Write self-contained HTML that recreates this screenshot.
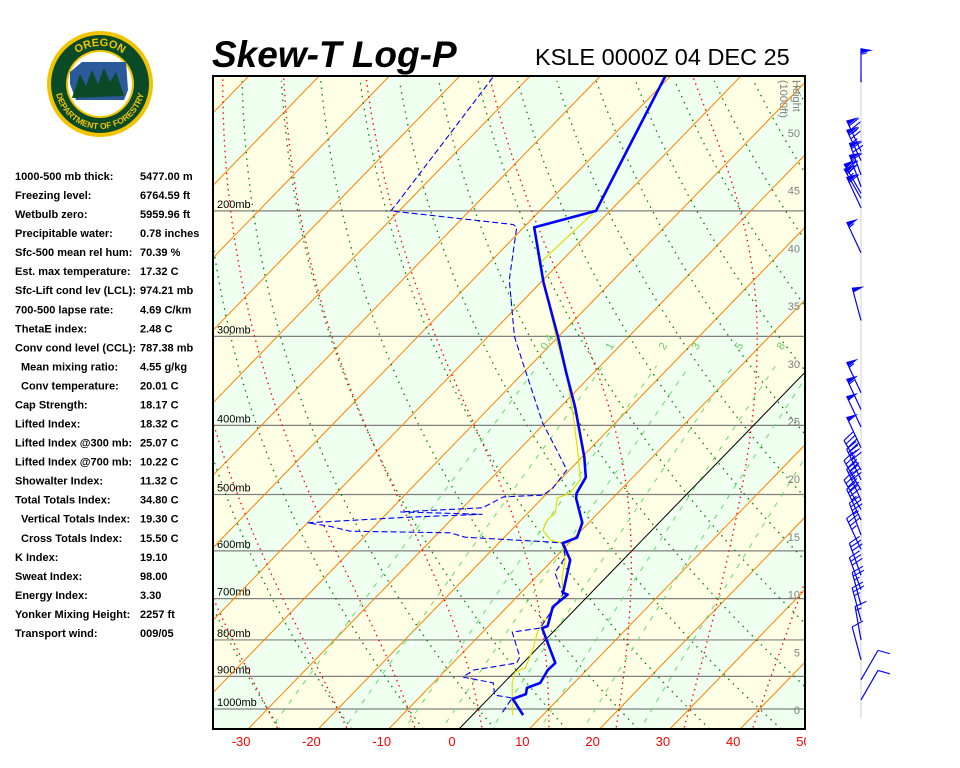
<!DOCTYPE html>
<html><head><meta charset="utf-8"><style>
body{margin:0;background:#fff;}
svg{display:block;font-family:"Liberation Sans",sans-serif;}
.st{font-size:11px;font-weight:bold;fill:#000;}
</style></head><body>
<svg id="chart" width="960" height="768" viewBox="0 0 960 768" xmlns="http://www.w3.org/2000/svg">
<defs><clipPath id="pc"><rect x="213" y="76" width="592" height="653"/></clipPath>
<clipPath id="bc"><rect x="200" y="729" width="606" height="30"/></clipPath>
<path id="arcTop" d="M 62 84 A 38 38 0 0 1 138 84"/>
<path id="arcBot" d="M 55 84 A 45 45 0 0 0 145 84"/>
</defs>
<g>
<circle cx="100" cy="84" r="53" fill="#f2c400"/>
<circle cx="100" cy="84" r="49" fill="#0b4a26"/>
<circle cx="100" cy="84" r="34" fill="#f2c400"/>
<circle cx="100" cy="84" r="32" fill="#ffffff"/>
<path d="M70 72 L82 62 L126 62 L128 90 L124 100 L76 100 L70 84 Z" fill="#2a5a9a"/>
<path d="M72 98 L80 74 L86 86 L92 70 L98 84 L104 68 L110 82 L116 72 L124 96 Z" fill="#0b4a26"/>
<text font-size="11" font-weight="bold" fill="#f2c400"><textPath href="#arcTop" startOffset="50%" text-anchor="middle">OREGON</textPath></text>
<text font-size="8.5" font-weight="bold" fill="#f2c400"><textPath href="#arcBot" startOffset="50%" text-anchor="middle">DEPARTMENT OF FORESTRY</textPath></text>
</g>
<text x="212" y="67" font-size="37" font-weight="bold" font-style="italic">Skew-T Log-P</text>
<text x="535" y="65" font-size="23.5">KSLE 0000Z 04 DEC 25</text>
<g id="stats"></g>
<g id="bg" clip-path="url(#pc)"></g>
<g id="lines" clip-path="url(#pc)"></g>
<g id="traces" clip-path="url(#pc)"></g>
<rect x="213" y="76" width="592" height="653" fill="none" stroke="#000" stroke-width="2"/>
<g id="xaxis" clip-path="url(#bc)"></g>
<g id="winds"><line x1="861" y1="75" x2="861" y2="718" stroke="#e8e8e8" stroke-width="2"/></g>
</svg>
<script>
const statLabels=["1000-500 mb thick:","Freezing level:","Wetbulb zero:","Precipitable water:","Sfc-500 mean rel hum:","Est. max temperature:","Sfc-Lift cond lev (LCL):","700-500 lapse rate:","ThetaE index:","Conv cond level (CCL):","Mean mixing ratio:","Conv temperature:","Cap Strength:","Lifted Index:","Lifted Index @300 mb:","Lifted Index @700 mb:","Showalter Index:","Total Totals Index:","Vertical Totals Index:","Cross Totals Index:","K Index:","Sweat Index:","Energy Index:","Yonker Mixing Height:","Transport wind:"];
const statValues=["5477.00 m","6764.59 ft","5959.96 ft","0.78 inches","70.39 %","17.32 C","974.21 mb","4.69 C/km","2.48 C","787.38 mb","4.55 g/kg","20.01 C","18.17 C","18.32 C","25.07 C","10.22 C","11.32 C","34.80 C","19.30 C","15.50 C","19.10","98.00","3.30","2257 ft","009/05"];
const statIndent=[0,0,0,0,0,0,0,0,0,0,1,1,0,0,0,0,0,0,1,1,0,0,0,0,0];
// sounding data
const tempP=[129,200,211,252,300,338,377,443,473,498,506,548,575,585,618,687,691,719,765,770,862,882,919,934,953,968,1020];
const tempT=[-60.8,-52.0,-58.5,-49.6,-40.1,-33.8,-27.9,-19.7,-16.7,-15.8,-15.2,-10.9,-9.6,-10.9,-7.5,-4.0,-3.1,-3.5,-1.6,-2.1,4.6,4.5,5.2,4.0,4.7,3.5,7.2];
const dewP=[130,196,200,209,211,250,300,327,397,433,462,490,501,504,522,529,533,538,548,554,563,566,574,583,585,612,644,691,770,780,845,862,882,902,919,956,965,1013];
const dewT=[-85.1,-81.3,-81.2,-61.9,-61.0,-54.8,-46.3,-41.4,-30.3,-24.6,-20.4,-19.9,-20.3,-25.7,-27.2,-38.3,-26.3,-36.2,-50.0,-46.4,-42.8,-28.3,-25.6,-12.9,-10.9,-8.6,-7.9,-3.8,-2.4,-5.8,-1.3,-0.9,-6.1,-6.6,-1.5,0.4,3.3,3.9];
const wbP=[200,237,264,304,345,389,437,477,498,506,531,543,561,579,585,618,653,691,775,827,876,887,919,965,1020];
const wbT=[-52.1,-52.8,-47.1,-39.7,-32.8,-26.8,-21.2,-17.1,-16.8,-17.9,-16.1,-16.3,-15.5,-13.1,-11.0,-8.2,-6.3,-3.8,-2.4,-0.4,1.0,0.1,1.2,3.3,5.7];
// axes
const pLevels=[1000,900,800,700,600,500,400,300,200];
const tTicks=[-30,-20,-10,0,10,20,30,40,50];
const heightTicks=[0,5,10,15,20,25,30,35,40,45,50];
const mixRatios=[0.4,1,2,3,5,8,12,20];
// winds
const windP=[132,165,170,178,185,189,192,198,229,285,360,380,402,430,462,477,493,509,525,543,570,597,649,680,715,752,800,853,910,971];
const windDir=[360,335,335,340,340,330,330,335,335,345,335,335,335,335,330,335,330,335,330,335,340,335,340,340,345,345,350,345,30,30];
const windSpd=[55,75,75,70,65,70,65,60,55,50,55,55,50,50,45,40,45,40,40,35,35,35,30,30,25,25,15,10,10,10];

const NS="http://www.w3.org/2000/svg";
function mk(tag,attrs,parent){const e=document.createElementNS(NS,tag);for(const k in attrs)e.setAttribute(k,attrs[k]);parent.appendChild(e);return e;}
function yP(p){return 709-309.5*Math.log(1000/p);}
function xT(T,y){return 459+7.03*T+0.97*(729-y);}
function pY(y){return 1000*Math.exp(-(709-y)/309.5);}
const Y0=76,Y1=729;
function pathFrom(ps,ts){let d="";for(let i=0;i<ps.length;i++){const y=yP(ps[i]);d+=(i?"L":"M")+xT(ts[i],y).toFixed(1)+" "+y.toFixed(1);}return d;}

// stats
const sg=document.getElementById('stats');
statLabels.forEach((l,i)=>{
 const t=mk('text',{x:statIndent[i]?21:15,y:180+i*19.04,class:'st'},sg);t.textContent=l;
 
 
 const v=mk('text',{x:140,y:180+i*19.04,class:'st'},sg);v.textContent=statValues[i];
 
 
});

// background bands
const bg=document.getElementById('bg');
mk('rect',{x:213,y:76,width:592,height:653,fill:'#effff0'},bg);
for(let T=-140;T<=60;T+=10){
 const k=Math.floor(T/10);
 if(Math.abs(k)%2===1){
  const a=xT(T,Y1),b=xT(T,Y0),c=xT(T+10,Y0),d=xT(T+10,Y1);
  const poly=mk('polygon',{points:`${a},${Y1} ${b},${Y0} ${c},${Y0} ${d},${Y1}`,fill:'#ffffe6'},bg);
  
  
 }
}
const lg=document.getElementById('lines');
// pressure lines
pLevels.forEach(p=>{const y=yP(p);
 const l=mk('line',{x1:213,x2:805,y1:y,y2:y,stroke:'#808080','stroke-width':1.2},lg);
 
 
 const t=mk('text',{x:217,y:y-3,'font-size':11,fill:'#000'},lg);t.textContent=p+'mb';
 
 
});
// isotherms
for(let T=-130;T<=60;T+=10){
 const l=mk('line',{x1:xT(T,Y1),y1:Y1,x2:xT(T,Y0),y2:Y0,stroke:T===0?'#000':'#ff8000','stroke-width':1},lg);
 
 
}
// dry adiabats
for(let t0=-50;t0<=160;t0+=10){
 const th=t0+273.15;let d="";
 for(let y=Y1;y>=Y0;y-=6){const p=pY(y);const T=th*Math.pow(p/1000,0.286)-273.15;d+=(y===Y1?"M":"L")+xT(T,y).toFixed(1)+" "+y;}
 const pa=mk('path',{d:d,fill:'none',stroke:'#008000','stroke-width':1.3,'stroke-dasharray':'1.5 5'},lg);
 
 
}
// moist adiabats
function es(T){return 6.112*Math.exp(17.67*T/(T+243.5));}
function dTdp(T,p){const Tk=T+273.15;const e=es(T);const rs=0.622*e/(p-e);return ((287*Tk+2.5e6*rs)/(1004+(2.5e6*2.5e6*rs*0.622)/(287*Tk*Tk)))/p;}
for(let t0=-30;t0<=40;t0+=10){
 const pts=[];let T=t0,p=1000;
 while(p>120){pts.push([p,T]);T-=dTdp(T,p)*2;p-=2;}
 T=t0;p=1000;const low=[];while(p<1080){T+=dTdp(T,p)*2;p+=2;low.push([p,T]);}
 const all=low.reverse().concat(pts);
 let d="";all.forEach((q,i)=>{const y=yP(q[0]);d+=(i?"L":"M")+xT(q[1],y).toFixed(1)+" "+y.toFixed(1);});
 const pa=mk('path',{d:d,fill:'none',stroke:'#ff0000','stroke-width':1.3,'stroke-dasharray':'1.5 4'},lg);
 
 
}
// mixing ratio lines
function tdW(w,p){const e=w*p/(622+w);const l=Math.log(e/6.112);return 243.5*l/(17.67-l);}
mixRatios.forEach(w=>{
 let d="";let i=0;
 for(let p=1080;p>=330;p-=10){const y=yP(p);d+=(i++?"L":"M")+xT(tdW(w,p),y).toFixed(1)+" "+y.toFixed(1);}
 const pa=mk('path',{d:d,fill:'none',stroke:'#66dd66','stroke-width':1,'stroke-dasharray':'5 7'},lg);
 
 
 const y=yP(312);const x=xT(tdW(w,312),y)-8;
 const t=mk('text',{x:x,y:y+4,'font-size':11,fill:'#66cc66',transform:`rotate(-60 ${x} ${y})`},lg);t.textContent=String(w);
 
 
});
// height labels
heightTicks.forEach(h=>{const t=mk('text',{x:800,y:714-h*11.54,'font-size':11,fill:'#808080','text-anchor':'end'},lg);t.textContent=h;
 
 });
const ht=mk('text',{x:793,y:80,'font-size':11,fill:'#808080',transform:'rotate(90 793 80)'},lg);ht.textContent='Height';


const ht2=mk('text',{x:780,y:80,'font-size':11,fill:'#808080',transform:'rotate(90 780 80)'},lg);ht2.textContent='(1000ft)';



// traces
const tg=document.getElementById('traces');
const wb=mk('path',{d:pathFrom(wbP,wbT),fill:'none',stroke:'#e0e000','stroke-width':1.2},tg);


const dw=mk('path',{d:pathFrom(dewP,dewT),fill:'none',stroke:'#0000ff','stroke-width':1.1,'stroke-dasharray':'6 3'},tg);


const tt=mk('path',{d:pathFrom(tempP,tempT),fill:'none',stroke:'#0000ff','stroke-width':2.6,'stroke-linejoin':'round'},tg);



// x axis
const xg=document.getElementById('xaxis');
tTicks.forEach(T=>{const t=mk('text',{x:xT(T,Y1)-7,y:746,'font-size':13,fill:'#ff0000','text-anchor':'middle'},xg);t.textContent=T;
 
 });

// wind barbs
const wg=document.getElementById('winds');
windP.forEach((p,i)=>{
 const y=yP(p),x=861,a=windDir[i]*Math.PI/180;
 const ux=Math.sin(a),uy=-Math.cos(a),px=-uy,py=ux;
 const L=34;const g=mk('g',{},wg);
 
 
 mk('line',{x1:x,y1:y,x2:x+ux*L,y2:y+uy*L,stroke:'#0000ff','stroke-width':1.2},g);
 let s=windSpd[i],pos=L;
 while(s>=50){const bx=x+ux*pos,by=y+uy*pos;
  mk('polygon',{points:`${bx},${by} ${bx+px*12+ux*-2},${by+py*12+uy*-2} ${x+ux*(pos-5)},${y+uy*(pos-5)}`,fill:'#0000ff'},g);pos-=6;s-=50;}
 while(s>=10){const bx=x+ux*pos,by=y+uy*pos;
  mk('line',{x1:bx,y1:by,x2:bx+px*12+ux*3,y2:by+py*12+uy*3,stroke:'#0000ff','stroke-width':1.1},g);pos-=4;s-=10;}
 if(s>=5){const bx=x+ux*pos,by=y+uy*pos;
  mk('line',{x1:bx,y1:by,x2:bx+px*6+ux*1.5,y2:by+py*6+uy*1.5,stroke:'#0000ff','stroke-width':1.1},g);}
});
</script>
</body></html>
